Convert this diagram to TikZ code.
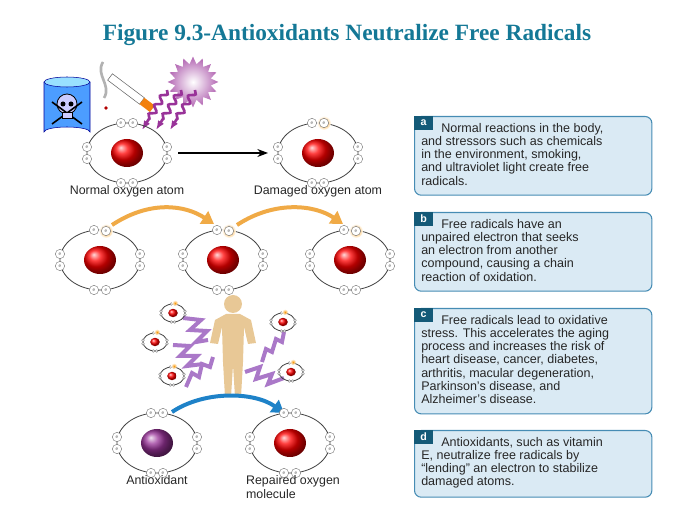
\documentclass[tikz,border=0pt]{standalone}
\usepackage{fontspec}
\setmainfont{Liberation Sans}
\newfontfamily\titlefont{Liberation Serif}
\usetikzlibrary{shapes.geometric,decorations.pathmorphing,arrows.meta}
\definecolor{titlec}{RGB}{20,120,150}
\definecolor{boxfill}{RGB}{218,234,244}
\definecolor{boxline}{RGB}{70,140,180}
\definecolor{tabc}{RGB}{20,90,120}
\definecolor{zig}{RGB}{170,120,200}
\definecolor{tan}{RGB}{232,200,150}
\definecolor{arrowo}{RGB}{240,170,70}
\definecolor{arrowb}{RGB}{30,130,200}
\tikzset{
 infobox/.style={draw=boxline,fill=boxfill,rounded corners=5pt,line width=0.8pt,minimum width=178pt,inner sep=0pt,anchor=north west},
 infotext/.style={align=left,font=\fontsize{9.4}{9.9}\selectfont,text=black!85,anchor=north west,inner sep=0pt},
 tabnode/.style={fill=tabc,text=white,font=\bfseries\fontsize{8}{8}\selectfont,anchor=north west,minimum width=14pt,minimum height=10pt,inner sep=1pt},
 caption/.style={font=\fontsize{9.3}{10.6}\selectfont,text=black!85,align=center},
 elec/.style={draw=black!55,fill=white,line width=0.3pt,circle,inner sep=0pt,minimum size=7pt,font=\fontsize{3.5}{3.5}\selectfont,text=black!60},
 zigline/.style={draw=zig,line width=3pt,line join=miter},
}
\newcommand\myatom[4]{% x y scale nucleus color
 \begin{scope}[shift={(#1,#2)},scale=#3]
  \draw[black!75,line width=0.6pt] (0,0) ellipse [x radius=40,y radius=30];
  \foreach \px/\py in {-6/-30,6/-30,-6/30,6/30,-40/-6,-40/6,40/-6,40/6}
   \node[elec,minimum size=#3*7pt] at (\px,\py) {\ifdim#3pt>0.6pt e\fi};
  \shade[ball color=#4] (0,0) ellipse [x radius=16,y radius=14];
 \end{scope}}
\newcommand\glow[3]{\shade[inner color=orange!80!yellow,outer color=white,opacity=0.9] (#1,#2) circle[radius=#3];}
\begin{document}
\begin{tikzpicture}[x=0.75pt,y=-0.75pt]
\useasboundingbox (0,0) rectangle (683,509);
\node[font=\titlefont\bfseries\fontsize{17.5}{20}\selectfont,text=titlec] (title) at (347,35) {Figure 9.3-Antioxidants Neutralize Free Radicals};

% boxes
\node[infobox,minimum height=59pt] (ba) at (414,116) {};
\node[tabnode] (ta) at (414,116) {a};
\node[infotext] (xa) at (421,123) {\hspace*{15pt}Normal reactions in the body,\\and stressors such as chemicals\\in the environment, smoking,\\and ultraviolet light create free\\radicals.};
\node[infobox,minimum height=59pt] (bb) at (414,212) {};
\node[tabnode] (tb) at (414,212) {b};
\node[infotext] (xb) at (421,219) {\hspace*{15pt}Free radicals have an\\unpaired electron that seeks\\an electron from another\\compound, causing a chain\\reaction of oxidation.};
\node[infobox,minimum height=79pt] (bc) at (414,308) {};
\node[tabnode] (tc) at (414,308) {c};
\node[infotext] (xc) at (421,315) {\hspace*{15pt}Free radicals lead to oxidative\\stress. This accelerates the aging\\process and increases the risk of\\heart disease, cancer, diabetes,\\arthritis, macular degeneration,\\Parkinson's disease, and\\Alzheimer's disease.};
\node[infobox,minimum height=50pt] (bd) at (414,430) {};
\node[tabnode] (td) at (414,430) {d};
\node[infotext] (xd) at (421,437) {\hspace*{15pt}Antioxidants, such as vitamin\\E, neutralize free radicals by\\``lending'' an electron to stabilize\\damaged atoms.};

% row 1 icons
\draw[blue!60!black,fill=blue!55!cyan!70!white] (44,82) -- (44,132) arc[start angle=180,end angle=360,x radius=23,y radius=5] -- (90,82);
\draw[blue!60!black,fill=blue!30!cyan!40!white] (67,82) ellipse [x radius=23,y radius=5];
\draw[black,fill=white!80!blue,line width=0.6pt] (67,104) ellipse [x radius=10,y radius=10];
\fill (63,104) circle[radius=2.5] (71,104) circle[radius=2.5];
\draw[black,line width=1.2pt] (52,102)--(82,124) (82,102)--(52,124);
\draw[black,fill=white!80!blue] (62,112) rectangle (72,118);
\draw[black!30,line width=2pt] (103,62) .. controls (95,75) and (112,85) .. (104,98);
\draw[black!60,fill=white,rotate around={-37:(130,92)}] (105,88) rectangle (145,96);
\fill[orange!80!brown,rotate around={-37:(130,92)}] (145,88) rectangle (158,96);
\fill[red!70!black] (106,108) circle[radius=1.8];
\node[star,star points=16,star point ratio=1.4,minimum size=38pt,inner color=white,outer color=violet!60,shading=radial,inner sep=0pt] (sun) at (193,82) {};
\foreach \dx in {0,14,28}
 \draw[violet!80,line width=2pt,-{Latex[length=7pt]},decorate,decoration={snake,amplitude=2.2pt,segment length=8pt,post length=7pt}] (167+\dx,90) -- (142+\dx,130);

\myatom{127}{153}{1}{red}
\myatom{318}{153}{1}{red}
\glow{324}{123}{7}
\node[elec] at (324,123) {e};
\draw[-{Stealth[length=8pt]},line width=0.8pt] (178,153) -- (268,153);
\node[caption] (c1) at (127,191) {Normal oxygen atom};
\node[caption] (c2) at (318,191) {Damaged oxygen atom};

% row 2
\myatom{100}{260}{1}{red}
\myatom{223}{260}{1}{red}
\myatom{350}{260}{1}{red}
\glow{106}{231}{7}\node[elec] at (106,231) {e};
\glow{229}{231}{7}\node[elec] at (229,231) {e};
\glow{356}{231}{7}\node[elec] at (356,231) {e};
\draw[arrowo,line width=3pt,-{Triangle[length=9pt,width=11pt]}] (112,225) .. controls (150,200) and (185,205) .. (214,224);
\draw[arrowo,line width=3pt,-{Triangle[length=9pt,width=11pt]}] (237,225) .. controls (275,200) and (315,205) .. (343,224);

% row 3
\fill[tan] (233,304) circle[radius=9];
\fill[tan] (226,314) -- (240,314) -- (251,320) -- (256,343) -- (248,344) -- (244,327) -- (243,362) -- (241,397) -- (235,397) -- (233,365) -- (231,397) -- (225,397) -- (223,362) -- (222,327) -- (218,344) -- (210,343) -- (215,320) -- cycle;
\draw[zigline] (183,318)--(201,320)--(190,330)--(207,331)--(196,342)--(208,340);
\draw[zigline] (173,345)--(190,346)--(180,356)--(197,356)--(187,366)--(203,364);
\draw[zigline] (186,387)--(192,373)--(199,377)--(202,364)--(210,367)--(213,357);
\draw[zigline] (262,362)--(266,349)--(272,352)--(276,339)--(282,342)--(284,332);
\draw[zigline] (245,372)--(260,367)--(256,379)--(272,374)--(268,384)--(284,378);
\foreach \ax/\ay in {173/313,155/342,172/376,283/322,291/372}{
 \myatom{\ax}{\ay}{0.3}{red}
 \glow{\ax+2}{\ay-10}{3}
}

% row 4
\draw[arrowb,line width=3pt,-{Triangle[length=9pt,width=11pt]}] (172,412) .. controls (205,390) and (255,392) .. (284,413);
\myatom{157}{443}{1}{violet!80}
\myatom{290}{443}{1}{red}
\node[caption] (c3) at (157,480) {Antioxidant};
\node[caption,align=left] (c4) at (293,487) {Repaired oxygen\\molecule};
\end{tikzpicture}
\end{document}
